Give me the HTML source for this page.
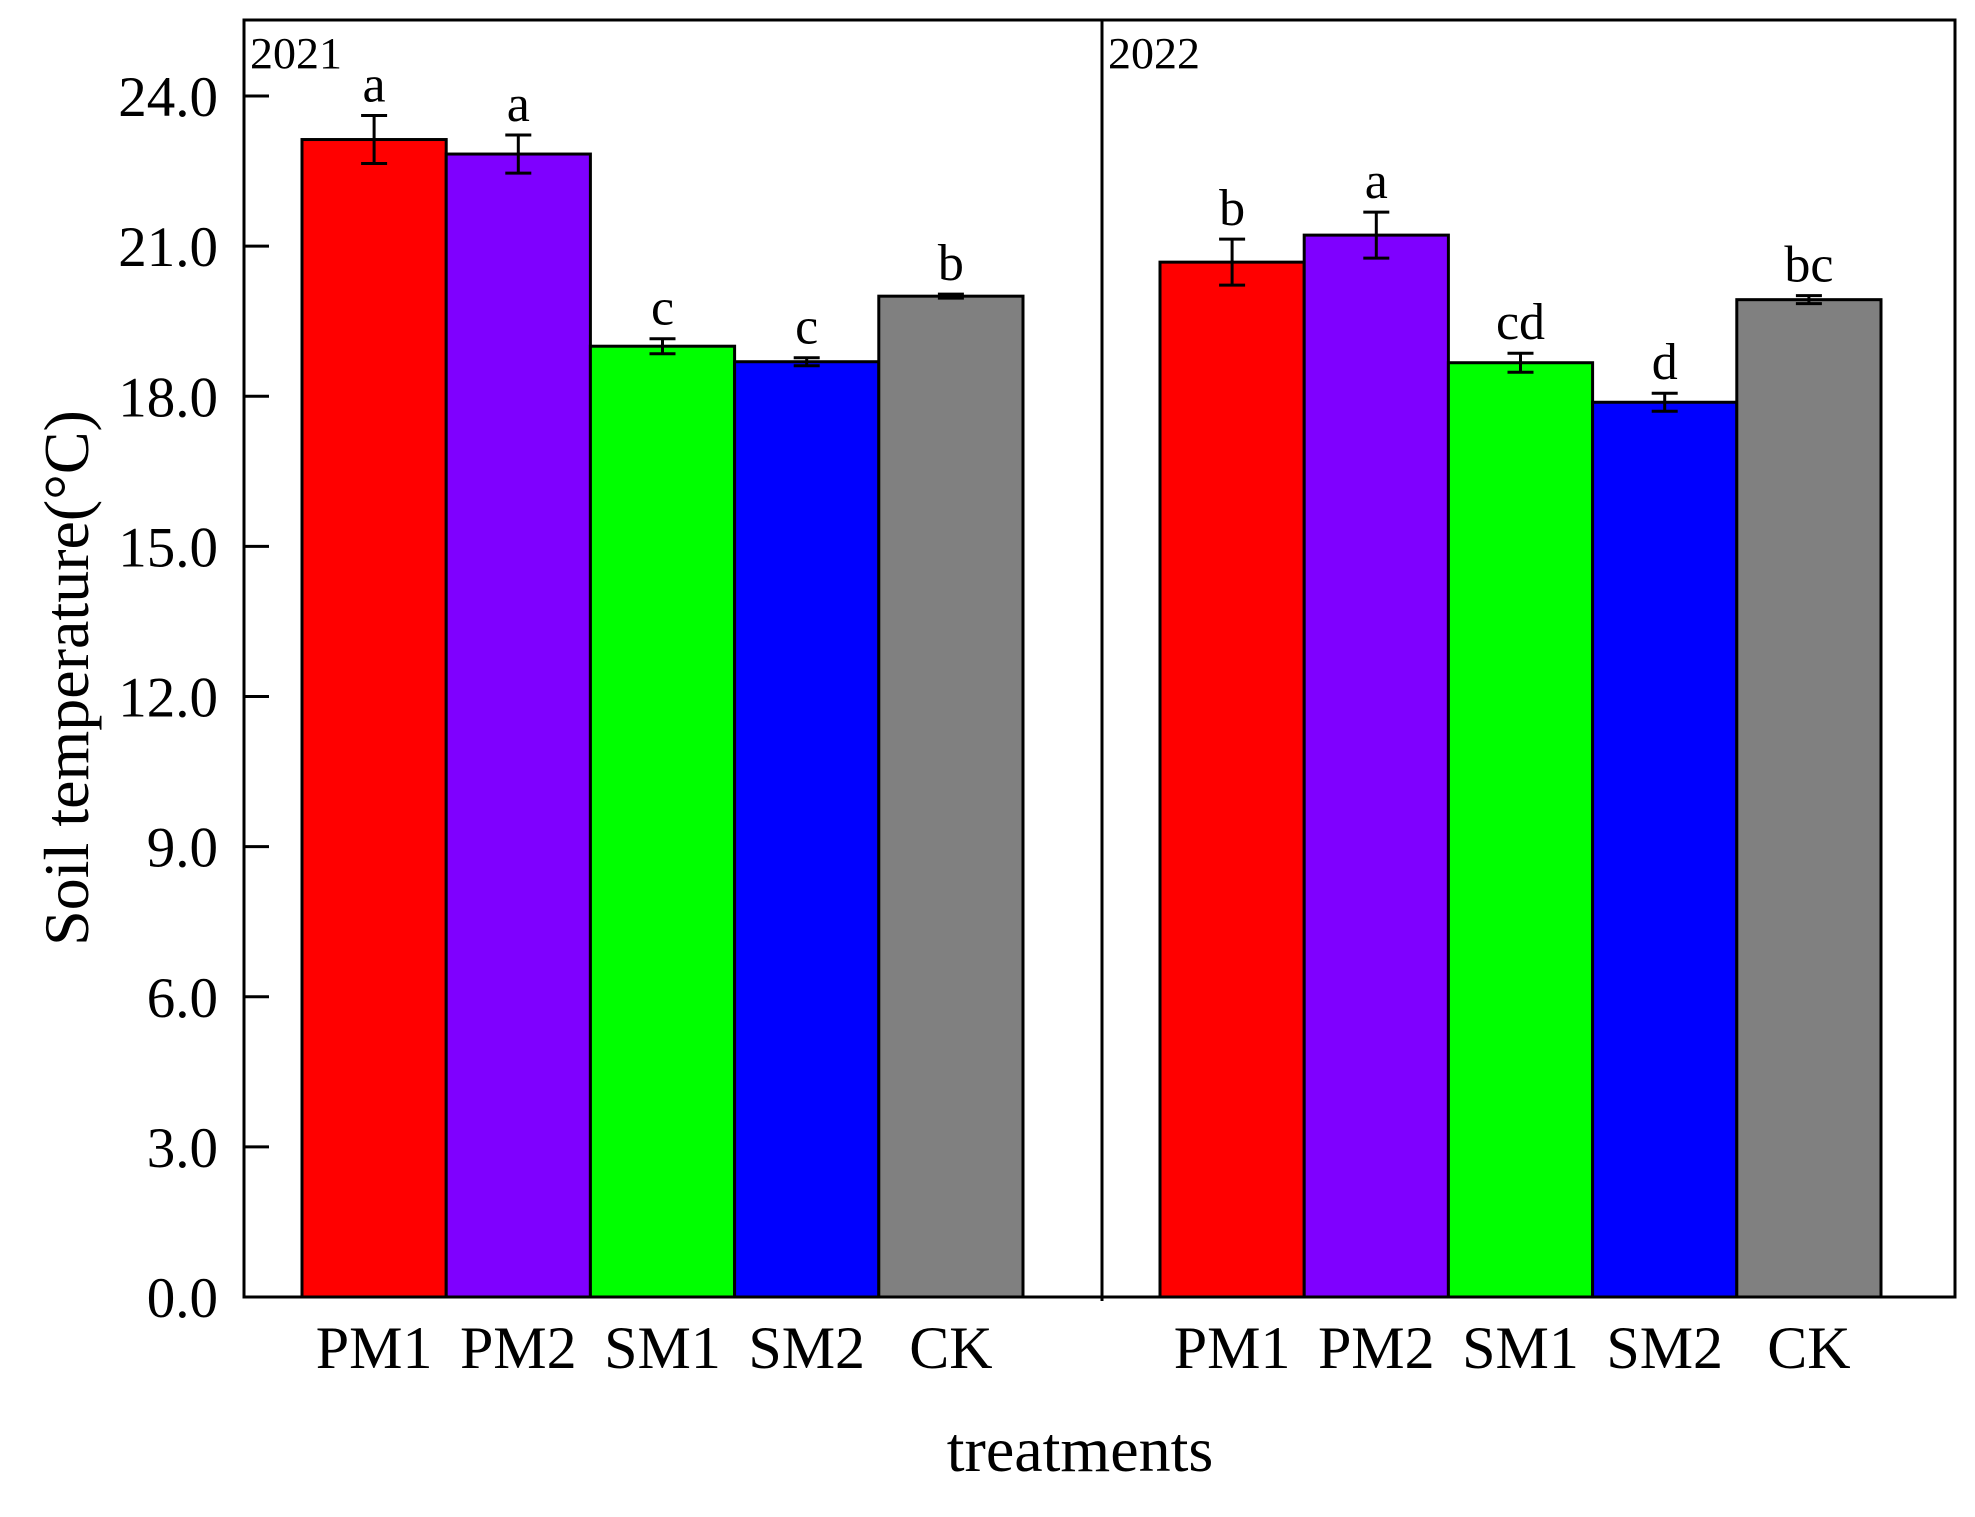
<!DOCTYPE html>
<html><head><meta charset="utf-8"><style>
html,body{margin:0;padding:0;background:#fff}
svg{display:block}
text{font-family:"Liberation Serif",serif;fill:#000}
</style></head><body>
<svg id="chart" width="1975" height="1517" viewBox="0 0 1975 1517">
<g id="plot"></g>
</svg>
<script>
const categories = ["PM1","PM2","SM1","SM2","CK"];
const years = ["2021","2022"];
const values2021 = [23.13, 22.84, 19.0, 18.69, 20.0];
const errors2021 = [0.48, 0.38, 0.15, 0.08, 0.04];
const letters2021 = ["a","a","c","c","b"];
const values2022 = [20.68, 21.22, 18.67, 17.88, 19.93];
const errors2022 = [0.46, 0.46, 0.19, 0.18, 0.08];
const letters2022 = ["b","a","cd","d","bc"];
const yTicks = [0, 3, 6, 9, 12, 15, 18, 21, 24];
const yTickLabels = ["0.0","3.0","6.0","9.0","12.0","15.0","18.0","21.0","24.0"];
const colors = ["#ff0000","#7f00ff","#00ff00","#0000ff","#808080"];

const NS = "http://www.w3.org/2000/svg";
const g = document.getElementById('plot');
const L = 244, R = 1955, T = 20, B = 1297, DIV = 1102;
const panelLeft = [L, DIV];
const barOffset = 58, barW = 144.2;
function y(v){ return B - (v / 24) * (B - 96); }
function x(panel, i){ return panelLeft[panel] + barOffset + i * barW; }
function mk(tag, attrs, parent){
  const e = document.createElementNS(NS, tag);
  for (const k in attrs) e.setAttribute(k, attrs[k]);
  (parent || g).appendChild(e);
  return e;
}

const vals = [values2021, values2022], errs = [errors2021, errors2022], lets = [letters2021, letters2022];
for (let p = 0; p < 2; p++) {
  for (let i = 0; i < categories.length; i++) {
    const v = vals[p][i], e = errs[p][i];
    const x0 = x(p, i);
    const r = mk('rect', {x: x0, y: y(v), width: barW, height: B - y(v), fill: colors[i], stroke: '#000', 'stroke-width': 3});
    
    
    const cx = x0 + barW / 2;
    const eg = mk('g', {stroke: '#000', 'stroke-width': 3});
    
    
    mk('line', {x1: cx, x2: cx, y1: y(v + e), y2: y(v - e)}, eg);
    mk('line', {x1: cx - 13, x2: cx + 13, y1: y(v + e), y2: y(v + e)}, eg);
    mk('line', {x1: cx - 13, x2: cx + 13, y1: y(v - e), y2: y(v - e)}, eg);
    const t = mk('text', {x: cx, y: y(v + e) - 14, 'text-anchor': 'middle', 'font-size': 52});
    t.textContent = lets[p][i];
    
    
    const xl = mk('text', {x: cx, y: 1368, 'text-anchor': 'middle', 'font-size': 60});
    xl.textContent = categories[i];
    
    
  }
  const yl = mk('text', {x: panelLeft[p] + 6, y: 68, 'font-size': 44, 'textLength': 92, 'lengthAdjust': 'spacingAndGlyphs'});
  yl.textContent = years[p];
  
  
}
// y ticks
for (let k = 0; k < yTicks.length; k++) {
  const ty = y(yTicks[k]);
  const tk = mk('line', {x1: L, x2: L + 25, y1: ty, y2: ty, stroke: '#000', 'stroke-width': 3});
  
  
  const tl = mk('text', {x: 218, y: ty + 20, 'text-anchor': 'end', 'font-size': 57});
  tl.textContent = yTickLabels[k];
  
  
}
// frame
const fr = mk('rect', {x: L, y: T, width: R - L, height: B - T, fill: 'none', stroke: '#000', 'stroke-width': 3});


const dv = mk('line', {x1: DIV, x2: DIV, y1: T, y2: B + 4, stroke: '#000', 'stroke-width': 3});


const xt = mk('text', {x: 1080, y: 1471, 'text-anchor': 'middle', 'font-size': 64});
xt.textContent = 'treatments';


const yt = mk('text', {x: 0, y: 0, 'text-anchor': 'middle', 'font-size': 64, transform: 'translate(88,678) rotate(-90)'});
yt.textContent = 'Soil temperature(°C)';


</script>
</body></html>
